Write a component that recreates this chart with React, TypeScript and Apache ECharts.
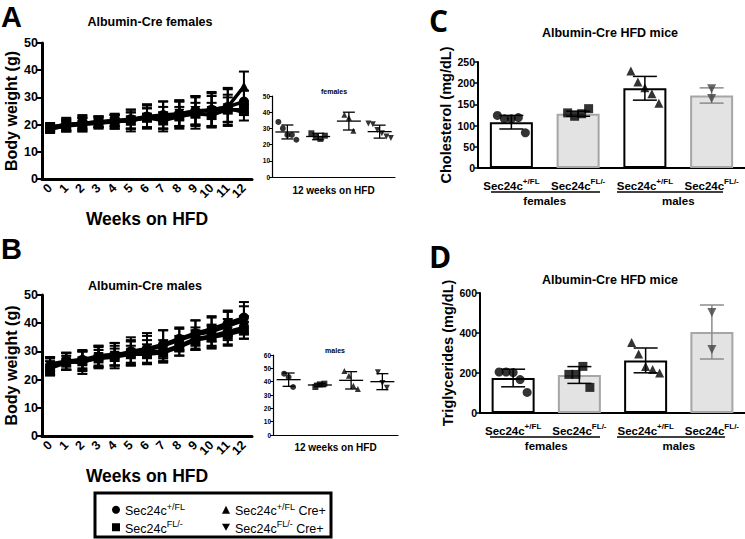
import React, { useEffect, useRef } from 'react';
import * as echarts from 'echarts';

// ---------- data ----------
const weeks = ['0', '1', '2', '3', '4', '5', '6', '7', '8', '9', '10', '11', '12'];
const groupNames = ['Sec24c+/FL', 'Sec24cFL/-', 'Sec24c+/FL Cre+', 'Sec24cFL/- Cre+'];

// females, body weight (g) mean and SD per week
const femCircle = [19, 20, 20.5, 21, 21.5, 22, 23, 23.5, 24, 25, 25.5, 26.5, 28.5];
const femCircleSD = [1.5, 2.5, 3, 2, 2.5, 3.5, 4, 5, 5, 5.5, 6.5, 6.5, 4];
const femSquare = [18.5, 19.5, 20, 20.5, 21, 21.5, 22.5, 21.5, 23, 24, 23.5, 25.5, 25.5];
const femSquareSD = [1.5, 2, 2.5, 2, 2.5, 3, 3.5, 3, 3.5, 4, 4.5, 4.5, 2];
const femUp = [18.5, 19.5, 20.5, 21, 21, 21.5, 23, 22.5, 23.5, 24.5, 25.5, 26.5, 34];
const femUpSD = [1, 2, 2.5, 2, 2.5, 4, 4.5, 4, 5, 6, 6, 7, 5.5];
const femDown = [19, 20, 20.5, 21, 21.5, 21.5, 22.5, 23, 24, 25, 25, 26, 24.5];
const femDownSD = [1.5, 2, 2, 2, 2, 3, 3.5, 5.5, 4.5, 5, 5.5, 5, 3];

// males
const maleCircle = [24.5, 26.5, 27, 28, 28.5, 30, 31, 32.5, 34.5, 36.5, 38, 40, 42];
const maleCircleSD = [3, 3, 3.5, 4, 4.5, 5, 5.5, 5, 4, 4.5, 4.5, 4.5, 5.5];
const maleSquare = [24, 26, 26.5, 27.5, 28, 29, 29, 29.5, 31.5, 34, 35, 36, 37.5];
const maleSquareSD = [2.5, 2.5, 3.5, 3, 3, 3, 3.5, 3, 3, 3.5, 4, 4, 3];
const maleUp = [25.5, 26.5, 27, 28.5, 29, 29.5, 30.5, 32, 34, 36, 37, 39, 41];
const maleUpSD = [2.5, 3, 3, 3.5, 4, 4.5, 5, 5.5, 4, 5, 5, 5, 5];
const maleDown = [25, 26.5, 26, 28, 28.5, 29.5, 30, 30, 32, 34.5, 35.5, 37, 38.5];
const maleDownSD = [3, 3, 4, 3.5, 3.5, 4, 4, 4, 3.5, 4, 4, 4.5, 4];

// 12 weeks on HFD, individual animals
const femW12Points = [
  [34, 30, 26, 26, 23],
  [27, 25, 23.5, 25.5],
  [38.5, 36.5, 28.5],
  [33, 32.5, 29, 27, 25, 24],
];
const femW12Mean = [27.8, 25, 34.5, 28];
const femW12SD = [4.3, 2, 5.5, 4];

const maleW12Points = [
  [46, 43.5, 36],
  [36, 38, 38.5],
  [48, 44.5, 37, 34.5],
  [47, 39, 35.5],
];
const maleW12Mean = [41.5, 37.5, 41, 40];
const maleW12SD = [5, 1.3, 6.5, 6];

// cholesterol / triglycerides
const barCats = ['Sec24c+/FL', 'Sec24cFL/-', 'Sec24c+/FL', 'Sec24cFL/-'];
const sexLabels = ['females', 'males'];
const cholMeans = [108, 128, 188, 171];
const cholSD = [16, 6, 28, 18];
const cholPoints = [
  [124, 116, 116, 119, 83],
  [130, 122, 128, 140],
  [229, 203, 189, 175, 153],
  [187, 164],
];
const trigMeans = [175, 190, 263, 405];
const trigSD = [44, 42, 62, 135];
const trigPoints = [
  [205, 205, 202, 167, 103],
  [193, 193, 233, 128],
  [352, 295, 233, 217, 200],
  [503, 317],
];

// ---------- styles ----------
const fam = '"Liberation Sans", Arial, Helvetica, sans-serif';
const DOWN = 'path://M0,0L10,0L5,9Z';
const groupSymbols = ['circle', 'rect', 'triangle', DOWN];

const toRich = (name: string) => {
  const m = name.match(/^Sec24c(\S+)(.*)$/);
  if (!m) return name;
  return `{b|Sec24c}{sup|${m[1]}}` + (m[2] ? `{b|${m[2]}}` : '');
};
const supRich = (base: number, sup: number, weight: string) => ({
  b: { fontSize: base, fontWeight: weight, color: '#000', fontFamily: fam, lineHeight: base + 3, verticalAlign: 'bottom' },
  sup: { fontSize: sup, fontWeight: weight, color: '#000', fontFamily: fam, lineHeight: sup + 1, verticalAlign: 'top' },
});

function errRender(capW: number, meanW: number, colors: string[], lw: number) {
  return (params: any, api: any) => {
    const x = api.value(0);
    const m = api.value(1);
    const s = api.value(2);
    const pt = api.coord([x, m + s]);
    const pb = api.coord([x, m - s]);
    const pm = api.coord([x, m]);
    const stroke = colors[params.dataIndex % colors.length];
    const st = { stroke, lineWidth: lw };
    const children: any[] = [
      { type: 'line', shape: { x1: pt[0], y1: pt[1], x2: pb[0], y2: pb[1] }, style: st },
      { type: 'line', shape: { x1: pt[0] - capW / 2, y1: pt[1], x2: pt[0] + capW / 2, y2: pt[1] }, style: st },
      { type: 'line', shape: { x1: pb[0] - capW / 2, y1: pb[1], x2: pb[0] + capW / 2, y2: pb[1] }, style: st },
    ];
    if (meanW) {
      children.push({ type: 'line', shape: { x1: pm[0] - meanW / 2, y1: pm[1], x2: pm[0] + meanW / 2, y2: pm[1] }, style: st });
    }
    return { type: 'group', children };
  };
}

const spread = (n: number, i: number, step: number) => (i - (n - 1) / 2) * step;

function lineGroupSeries(grid: number, means: number[][], sds: number[][]) {
  const out: any[] = [];
  means.forEach((arr, g) => {
    out.push({
      type: 'custom',
      name: groupNames[g] + ' err' + grid,
      xAxisIndex: grid,
      yAxisIndex: grid,
      renderItem: errRender(10, 0, ['#000'], 2),
      encode: { x: 0, y: 1 },
      data: arr.map((m, i) => [i, m, sds[g][i]]),
      z: 2,
    });
  });
  means.forEach((arr, g) => {
    out.push({
      type: 'line',
      name: groupNames[g],
      xAxisIndex: grid,
      yAxisIndex: grid,
      data: arr,
      symbol: groupSymbols[g],
      symbolSize: 10,
      lineStyle: { color: '#000', width: 3.5 },
      itemStyle: { color: '#000' },
      z: 3,
    });
  });
  return out;
}

function dotPlotSeries(grid: number, points: number[][], means: number[], sds: number[]) {
  const out: any[] = [
    {
      type: 'custom',
      name: 'w12err' + grid,
      xAxisIndex: grid,
      yAxisIndex: grid,
      renderItem: errRender(12, 24, ['#000'], 1.3),
      encode: { x: 0, y: 1 },
      data: means.map((m, i) => [i, m, sds[i]]),
      z: 2,
    },
  ];
  points.forEach((pts, g) => {
    out.push({
      type: 'scatter',
      name: 'w12pts' + grid + '-' + g,
      xAxisIndex: grid,
      yAxisIndex: grid,
      symbol: groupSymbols[g],
      symbolSize: 6,
      itemStyle: { color: '#000' },
      data: pts.map((v, i) => ({ value: [g, v], symbolOffset: [spread(pts.length, i, 4.5), 0] })),
      z: 3,
    });
  });
  return out;
}

const barFill = ['#ffffff', '#e3e3e3', '#ffffff', '#e3e3e3'];
const barBorder = ['#000', '#a6a6a6', '#000', '#a6a6a6'];
const errColors = ['#000', '#000', '#000', '#8c8c8c'];
const ptColors = ['#000', '#000', '#000', '#444'];

function barPanelSeries(grid: number, means: number[], sds: number[], points: number[][]) {
  const out: any[] = [
    {
      type: 'bar',
      name: 'bars' + grid,
      xAxisIndex: grid,
      yAxisIndex: grid,
      barWidth: 43,
      data: means.map((m, i) => ({
        value: m,
        itemStyle: { color: barFill[i], borderColor: barBorder[i], borderWidth: 2 },
      })),
      z: 1,
    },
    {
      type: 'custom',
      name: 'barerr' + grid,
      xAxisIndex: grid,
      yAxisIndex: grid,
      renderItem: errRender(24, 0, errColors, 1.5),
      encode: { x: 0, y: 1 },
      data: means.map((m, i) => [i, m, sds[i]]),
      z: 2,
    },
  ];
  points.forEach((pts, g) => {
    out.push({
      type: 'scatter',
      name: 'barpts' + grid + '-' + g,
      xAxisIndex: grid,
      yAxisIndex: grid,
      symbol: groupSymbols[g],
      symbolSize: 9,
      itemStyle: { color: ptColors[g] },
      data: pts.map((v, i) => ({ value: [g, v], symbolOffset: [pts.length > 2 ? spread(pts.length, i, 7) : 0, 0] })),
      z: 3,
    });
  });
  return out;
}

const boldTxt = (size: number) => ({ fontSize: size, fontWeight: 'bold', color: '#000', fontFamily: fam });

function lineX(grid: number) {
  return {
    gridIndex: grid,
    type: 'category',
    data: weeks,
    boundaryGap: true,
    axisLine: { lineStyle: { color: '#000', width: 3 } },
    axisTick: { alignWithLabel: true, length: 5, lineStyle: { color: '#000', width: 2 } },
    axisLabel: { ...boldTxt(12.5), rotate: 45, margin: 7, interval: 0 },
    name: 'Weeks on HFD',
    nameLocation: 'middle',
    nameGap: 31,
    nameTextStyle: boldTxt(17.5),
  };
}
function lineY(grid: number) {
  return {
    gridIndex: grid,
    type: 'value',
    min: 0,
    max: 50,
    interval: 10,
    axisLine: { show: true, lineStyle: { color: '#000', width: 3 } },
    axisTick: { show: true, length: 5, lineStyle: { color: '#000', width: 2 } },
    axisLabel: { ...boldTxt(12.5), margin: 4 },
    splitLine: { show: false },
    name: 'Body weight (g)',
    nameLocation: 'middle',
    nameGap: 23,
    nameTextStyle: boldTxt(16),
  };
}
function dotX(grid: number, nameGap: number) {
  return {
    gridIndex: grid,
    type: 'category',
    data: groupNames,
    axisLine: { lineStyle: { color: '#000', width: 1.2 } },
    axisTick: { show: false },
    axisLabel: { show: false },
    name: '12 weeks on HFD',
    nameLocation: 'middle',
    nameGap,
    nameTextStyle: boldTxt(10),
  };
}
function dotY(grid: number, max: number) {
  return {
    gridIndex: grid,
    type: 'value',
    min: 0,
    max,
    interval: 10,
    axisLine: { show: true, lineStyle: { color: '#000', width: 1.2 } },
    axisTick: { show: true, length: 3, lineStyle: { color: '#000', width: 1 } },
    axisLabel: { ...boldTxt(6.5), margin: 2 },
    splitLine: { show: false },
  };
}
function barX(grid: number) {
  return {
    gridIndex: grid,
    type: 'category',
    data: barCats,
    axisLine: { lineStyle: { color: '#000', width: 2 } },
    axisTick: { alignWithLabel: true, length: 4, lineStyle: { color: '#000', width: 1.2 } },
    axisLabel: { formatter: (v: string) => toRich(v), rich: supRich(11.5, 8, 'bold'), margin: 9, interval: 0 },
  };
}
function sexX(grid: number) {
  return {
    gridIndex: grid,
    type: 'category',
    data: sexLabels,
    position: 'bottom',
    offset: 19,
    axisLine: { show: false },
    axisTick: { show: false },
    axisLabel: { ...boldTxt(11.5), margin: 8 },
  };
}
function barY(grid: number, max: number, interval: number, name: string) {
  return {
    gridIndex: grid,
    type: 'value',
    min: 0,
    max,
    interval,
    axisLine: { show: true, lineStyle: { color: '#000', width: 2 } },
    axisTick: { show: true, length: 4, lineStyle: { color: '#000', width: 1.5 } },
    axisLabel: { ...boldTxt(10.5), margin: 3 },
    splitLine: { show: false },
    name,
    nameLocation: 'middle',
    nameGap: 22,
    nameTextStyle: boldTxt(14.5),
  };
}

const txt = (text: string, x: number, y: number, size: number, align = 'center', family = fam) => ({
  type: 'text',
  x,
  y,
  style: { text, fill: '#000', font: `bold ${size}px ${family}`, textAlign: align, textVerticalAlign: 'middle' },
});
const hline = (x1: number, x2: number, y: number) => ({
  type: 'line',
  shape: { x1, y1: y, x2, y2: y },
  style: { stroke: '#000', lineWidth: 1.3 },
});

export default function App() {
  const ref = useRef<HTMLDivElement>(null);
  useEffect(() => {
    if (!ref.current) return;
    const chart = echarts.init(ref.current, null, { renderer: 'svg' });
    const legendCommon = {
      orient: 'vertical',
      padding: 0,
      height: 40,
      itemWidth: 8,
      itemHeight: 8,
      itemGap: 2,
      selectedMode: false,
      formatter: (n: string) => toRich(n),
      textStyle: { rich: supRich(12.5, 9, 'normal'), fontFamily: fam },
    };
    const option: any = {
      animation: false,
      backgroundColor: '#fff',
      textStyle: { fontFamily: fam },
      grid: [
        { left: 42, top: 43, width: 210, height: 136 },
        { left: 272, top: 96, width: 123, height: 81 },
        { left: 42, top: 295, width: 210, height: 141 },
        { left: 273, top: 355, width: 125, height: 80 },
        { left: 478, top: 62, width: 267, height: 106 },
        { left: 480, top: 293, width: 265, height: 120 },
      ],
      xAxis: [lineX(0), dotX(1, 8), lineX(2), dotX(3, 7), barX(4), barX(5), sexX(4), sexX(5)],
      yAxis: [
        lineY(0),
        dotY(1, 50),
        lineY(2),
        dotY(3, 60),
        barY(4, 250, 50, 'Cholesterol (mg/dL)'),
        barY(5, 600, 200, 'Triglycerides (mg/dL)'),
      ],
      legend: [
        { ...legendCommon, left: 112, top: 502, data: [0, 1].map((g) => ({ name: groupNames[g], icon: groupSymbols[g] })) },
        { ...legendCommon, left: 222, top: 502, data: [2, 3].map((g) => ({ name: groupNames[g], icon: groupSymbols[g] })) },
      ],
      series: [
        ...lineGroupSeries(0, [femCircle, femSquare, femUp, femDown], [femCircleSD, femSquareSD, femUpSD, femDownSD]),
        ...dotPlotSeries(1, femW12Points, femW12Mean, femW12SD),
        ...lineGroupSeries(2, [maleCircle, maleSquare, maleUp, maleDown], [maleCircleSD, maleSquareSD, maleUpSD, maleDownSD]),
        ...dotPlotSeries(3, maleW12Points, maleW12Mean, maleW12SD),
        ...barPanelSeries(4, cholMeans, cholSD, cholPoints),
        ...barPanelSeries(5, trigMeans, trigSD, trigPoints),
      ],
      graphic: [
        txt('A', 1, 17, 29, 'left'),
        txt('Albumin-Cre females', 150, 22, 12.5),
        txt('females', 334, 91, 7),
        txt('B', 1, 249, 29, 'left'),
        txt('Albumin-Cre males', 145, 286, 12.5),
        txt('males', 335, 350, 7),
        txt('C', 429, 20, 30, 'left', '"Open Sans", sans-serif'),
        txt('Albumin-Cre HFD mice', 610, 33, 12.5),
        txt('D', 429, 256, 30, 'left', '"Open Sans", sans-serif'),
        txt('Albumin-Cre HFD mice', 610, 280, 12.5),
        hline(491, 600, 192),
        hline(617, 723, 192),
        hline(490, 600, 437),
        hline(617, 725, 437),
        {
          type: 'rect',
          shape: { x: 95, y: 493, width: 236, height: 44 },
          style: { fill: 'none', stroke: '#000', lineWidth: 3 },
        },
      ],
    };
    chart.setOption(option);
    return () => chart.dispose();
  }, []);
  return (
    <div
      ref={ref}
      style={{ position: 'absolute', left: 0, top: 0, width: 745, height: 539, background: '#fff' }}
    />
  );
}
